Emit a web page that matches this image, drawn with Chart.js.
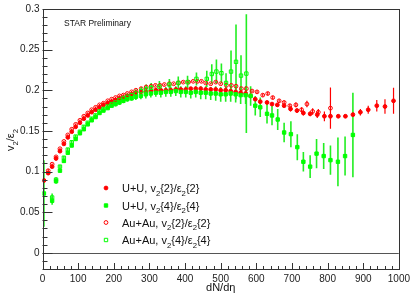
<!DOCTYPE html>
<html>
<head>
<meta charset="utf-8">
<script src="https://cdn.jsdelivr.net/npm/chart.js@4"></script>
<style>
html, body { margin: 0; padding: 0; background: #fff; }
</style>
</head>
<body>
<canvas id="myChart" width="414" height="297"></canvas>
<script>
const ctx = document.getElementById('myChart');

// tick labels
const xTicks = [0, 100, 200, 300, 400, 500, 600, 700, 800, 900, 1000];
const yTicks = [0, 0.05, 0.1, 0.15, 0.2, 0.25, 0.3];

// U+U, v2{2}/e2{2}  (red filled circles)
const uu22X = [4,16,27,38,49,60,71,82,93,105, 116,127,138,149,160,171,183,194,205,216,
  227,238,250,262,276,290,304,318,332,346, 360,374,388,402,416,430,444,458,472,486,
  500,514,528,542,556,570,584,597,611,630, 644,659,678,696,714,732,751,771,791,808,
  830,850,871,892,914,938,961,985];
const uu22Y = [0.089,0.098,0.106,0.116,0.125,0.134,0.142,0.149,0.155,0.160,
  0.165,0.169,0.173,0.176,0.179,0.182,0.184,0.186,0.188,0.190,
  0.191,0.193,0.195,0.197,0.198,0.198,0.199,0.200,0.200,0.200,
  0.200,0.201,0.201,0.201,0.202,0.202,0.202,0.201,0.201,0.201,
  0.200,0.200,0.199,0.198,0.197,0.196,0.193,0.189,0.186,0.185,
  0.183,0.182,0.181,0.177,0.175,0.172,0.171,0.170,0.168,0.168,
  0.168,0.168,0.170,0.173,0.176,0.181,0.180,0.187];
const uu22E = [0.003,0.002,0.001,0.001,0.001,0.001,0.001,0.001,0.001,0.001,
  0.001,0.001,0.001,0.001,0.001,0.001,0.001,0.001,0.001,0.001,
  0.001,0.001,0.001,0.001,0.001,0.001,0.001,0.001,0.001,0.001,
  0.001,0.001,0.001,0.001,0.001,0.001,0.001,0.001,0.001,0.001,
  0.001,0.001,0.001,0.001,0.001,0.001,0.001,0.001,0.001,0.001,
  0.002,0.002,0.002,0.003,0.003,0.003,0.003,0.004,0.006,0.003,
  0.002,0.002,0.003,0.004,0.005,0.007,0.009,0.016];

// U+U, v2{4}/e2{4}  (green filled squares)
const uu24X = [4,27,38,49,60,71,82,93,105,116, 127,138,149,160,171,183,194,205,216,227,
  238,250,262,276,290,304,318,332,346,360, 374,388,402,416,430,444,458,472,486,500,
  514,528,542,556,570,584,597,611,630,644, 660,678,697,715,732,751,769,789,808,829,
  849,871];
const uu24Y = [0.073,0.064,0.088,0.101,0.113,0.123,0.132,0.140,0.147,0.152,
  0.158,0.163,0.167,0.172,0.175,0.178,0.181,0.183,0.185,0.187,
  0.189,0.190,0.192,0.193,0.195,0.196,0.197,0.197,0.198,0.198,
  0.199,0.198,0.198,0.197,0.198,0.197,0.197,0.196,0.196,0.195,
  0.195,0.196,0.195,0.194,0.194,0.193,0.181,0.179,0.171,0.169,
  0.164,0.148,0.146,0.130,0.112,0.106,0.122,0.119,0.114,0.112,
  0.119,0.145];
const uu24E = [0.041,0.005,0.003,0.002,0.002,0.002,0.002,0.002,0.002,0.002,
  0.002,0.002,0.002,0.002,0.002,0.002,0.002,0.003,0.003,0.003,
  0.003,0.003,0.004,0.004,0.005,0.005,0.005,0.006,0.006,0.006,
  0.006,0.007,0.007,0.007,0.007,0.008,0.008,0.008,0.009,0.009,
  0.009,0.010,0.010,0.011,0.011,0.012,0.012,0.012,0.012,0.012,
  0.013,0.012,0.016,0.016,0.012,0.014,0.018,0.016,0.018,0.030,
  0.024,0.052];

// Au+Au, v2{2}/e2{2}  (red open circles)
const au22X = [16,27,38,49,60,71,82,93,105, 116,127,138,149,160,171,183,194,205,
  216,227,238,250,262,277,291,305,317,330, 342,356,368,382,395,410,423,435,446,458,
  472,486,500,516,530,543,558,572,588,602, 618,632,646,664,678,694,711,727,742,758,
  774,808];
const au22Y = [0.101,0.109,0.118,0.128,0.137,0.145,0.152,0.158,0.163,
  0.168,0.172,0.176,0.179,0.182,0.184,0.187,0.189,0.191,
  0.193,0.194,0.196,0.198,0.200,0.202,0.204,0.205,0.206,0.206,
  0.207,0.208,0.208,0.209,0.210,0.210,0.211,0.211,0.211,0.209,
  0.208,0.210,0.208,0.206,0.206,0.205,0.202,0.202,0.199,0.198,
  0.194,0.196,0.191,0.187,0.185,0.181,0.182,0.176,0.183,0.174,
  0.173,0.178];
const au22E = [0.002,0.001,0.001,0.001,0.001,0.001,0.001,0.001,0.001,
  0.001,0.001,0.001,0.001,0.001,0.001,0.001,0.001,0.001,
  0.001,0.001,0.001,0.001,0.001,0.001,0.001,0.001,0.001,0.001,
  0.001,0.001,0.001,0.001,0.001,0.001,0.001,0.001,0.001,0.001,
  0.001,0.001,0.001,0.001,0.001,0.001,0.001,0.001,0.001,0.002,
  0.002,0.002,0.002,0.002,0.002,0.002,0.003,0.003,0.004,0.004,
  0.004,0.0255];

// Au+Au, v2{4}/e2{4}  (green open squares)
const au24X = [27,38,49,60,71,82,93,105,116, 127,138,149,160,171,183,194,205,216,
  227,238,250,262,277,291,305, 328,356,381,407,432,461, 475,488,502,515,529,543,557,572];
const au24Y = [0.068,0.090,0.106,0.117,0.127,0.136,0.143,0.149,0.155,
  0.160,0.165,0.169,0.174,0.177,0.180,0.183,0.185,0.188,
  0.190,0.192,0.194,0.196,0.199,0.201,0.203,
  0.2045,0.207,0.209,0.210,0.214,0.214,
  0.220,0.223,0.221,0.209,0.223,0.235,0.218,0.2205];
const au24E = [0.005,0.003,0.002,0.002,0.002,0.002,0.002,0.002,0.002,
  0.002,0.002,0.002,0.003,0.003,0.003,0.003,0.003,0.003,
  0.004,0.004,0.004,0.005,0.005,0.006,0.006,
  0.007,0.007,0.008,0.008,0.008,0.010,
  0.012,0.015,0.012,0.012,0.026,0.046,0.025,0.073];

// legend text, as [text, subscript?] pieces
const legendLabels = [
  [['U+U, v', 0], ['2', 1], ['{2}/\u03b5', 0], ['2', 1], ['{2}', 0]],
  [['U+U, v', 0], ['2', 1], ['{4}/\u03b5', 0], ['2', 1], ['{4}', 0]],
  [['Au+Au, v', 0], ['2', 1], ['{2}/\u03b5', 0], ['2', 1], ['{2}', 0]],
  [['Au+Au, v', 0], ['2', 1], ['{4}/\u03b5', 0], ['2', 1], ['{4}', 0]]
];
const yTitle = [['v', 0], ['2', 1], ['/\u03b5', 0], ['2', 1]];
const xTitle = 'dN/d\u03b7';
const starLabel = 'STAR Preliminary';

const RED = '#ff0000';
const GREEN = '#00ff00';
const GREEN_BAR = '#22ee22';
const FONT = '"Liberation Sans", Arial, sans-serif';

function pts(xs, ys) {
  return xs.map(function(x, i) { return {x: x, y: ys[i]}; });
}

const errSets = [uu22E, uu24E, au22E, au24E];
const styles = [
  {style: 'circle', radius: 1.9, fill: RED, stroke: RED, bar: RED, barW: 1.2},
  {style: 'rect', radius: 2.4, fill: GREEN, stroke: GREEN, bar: GREEN_BAR, barW: 1.6},
  {style: 'circle', radius: 1.9, fill: 'rgba(0,0,0,0)', stroke: RED, bar: RED, barW: 1.2},
  {style: 'rect', radius: 2.4, fill: 'rgba(0,0,0,0)', stroke: GREEN, bar: GREEN_BAR, barW: 1.6}
];

function richText(c, x, y, parts, size) {
  let cx = x;
  parts.forEach(function(p) {
    const s = p[1] ? size * 0.7 : size;
    c.font = s + 'px ' + FONT;
    c.fillText(p[0], cx, y + (p[1] ? size * 0.32 : 0));
    cx += c.measureText(p[0]).width;
  });
  return cx - x;
}

function richWidth(c, parts, size) {
  let w = 0;
  parts.forEach(function(p) {
    c.font = (p[1] ? size * 0.7 : size) + 'px ' + FONT;
    w += c.measureText(p[0]).width;
  });
  return w;
}

const decor = {
  id: 'decor',
  beforeDatasetsDraw(chart) {
    const c = chart.ctx, xs = chart.scales.x, ys = chart.scales.y, a = chart.chartArea;
    c.save();
    c.beginPath();
    c.rect(a.left, a.top, a.right - a.left, a.bottom - a.top);
    c.clip();
    // zero line
    c.strokeStyle = '#555';
    c.lineWidth = 1;
    c.beginPath();
    const y0 = Math.round(ys.getPixelForValue(0)) + 0.5;
    c.moveTo(a.left, y0);
    c.lineTo(a.right, y0);
    c.stroke();
    // error bars
    chart.data.datasets.forEach(function(ds, i) {
      const errs = errSets[i];
      c.strokeStyle = styles[i].bar;
      c.lineWidth = styles[i].barW;
      ds.data.forEach(function(p, j) {
        const e = errs[j];
        if (!e) return;
        const px = xs.getPixelForValue(p.x);
        c.beginPath();
        c.moveTo(px, ys.getPixelForValue(p.y + e));
        c.lineTo(px, ys.getPixelForValue(p.y - e));
        c.stroke();
      });
    });
    c.restore();
  },
  afterDraw(chart) {
    const c = chart.ctx, xs = chart.scales.x, ys = chart.scales.y, a = chart.chartArea;
    c.save();
    // frame
    c.strokeStyle = '#333';
    c.lineWidth = 1;
    c.strokeRect(Math.round(a.left) + 0.5, Math.round(a.top) + 0.5,
      Math.round(a.right - a.left), Math.round(a.bottom - a.top));
    // inward ticks
    c.beginPath();
    for (let k = 0; k <= 50; k++) {
      const px = Math.round(xs.getPixelForValue(k * 20)) + 0.5;
      const len = (k % 5 === 0) ? 6 : 3;
      c.moveTo(px, a.bottom);
      c.lineTo(px, a.bottom - len);
    }
    for (let k = -2; k <= 30; k++) {
      const py = Math.round(ys.getPixelForValue(k * 0.01)) + 0.5;
      const len = (k % 5 === 0) ? 10 : 5;
      c.moveTo(a.left, py);
      c.lineTo(a.left + len, py);
    }
    c.stroke();

    c.fillStyle = '#111';
    c.textBaseline = 'alphabetic';
    // STAR Preliminary
    c.font = '8.5px ' + FONT;
    c.textAlign = 'left';
    c.fillText(starLabel, 64, 26);
    // x title
    c.font = '11px ' + FONT;
    c.textAlign = 'center';
    c.fillText(xTitle, (a.left + a.right) / 2, 291);
    // y title rotated
    c.textAlign = 'left';
    c.save();
    c.translate(14, 140);
    c.rotate(-Math.PI / 2);
    const tw = richWidth(c, yTitle, 11);
    richText(c, -tw / 2, 0, yTitle, 11);
    c.restore();
    // legend
    const rows = [188, 205.5, 222.5, 240];
    legendLabels.forEach(function(parts, i) {
      const st = styles[i];
      c.fillStyle = st.fill;
      c.strokeStyle = st.stroke;
      c.lineWidth = 1;
      c.beginPath();
      if (st.style === 'circle') {
        c.arc(106, rows[i], st.radius, 0, Math.PI * 2);
      } else {
        const s = st.radius * Math.SQRT1_2;
        c.rect(106 - s, rows[i] - s, 2 * s, 2 * s);
      }
      c.fill();
      c.stroke();
      c.fillStyle = '#111';
      richText(c, 122, rows[i] + 4, parts, 11);
    });
    c.restore();
  }
};

new Chart(ctx, {
  type: 'scatter',
  data: {
    datasets: [
      {label: 'U+U v2{2}', data: pts(uu22X, uu22Y), order: 4},
      {label: 'U+U v2{4}', data: pts(uu24X, uu24Y), order: 3},
      {label: 'Au+Au v2{2}', data: pts(au22X, au22Y), order: 2},
      {label: 'Au+Au v2{4}', data: pts(au24X, au24Y), order: 1}
    ].map(function(ds, i) {
      ds.pointStyle = styles[i].style;
      ds.pointRadius = styles[i].radius;
      ds.pointBackgroundColor = styles[i].fill;
      ds.pointBorderColor = styles[i].stroke;
      ds.pointBorderWidth = 1;
      ds.pointHoverRadius = styles[i].radius;
      return ds;
    })
  },
  options: {
    responsive: false,
    animation: false,
    devicePixelRatio: 1,
    layout: {padding: {left: 0, right: 13, top: 5, bottom: 0}},
    plugins: {legend: {display: false}, tooltip: {enabled: false}},
    scales: {
      x: {
        type: 'linear', min: 0, max: 1000,
        afterFit: function(s) { s.height = 28; },
        afterBuildTicks: function(s) { s.ticks = xTicks.map(function(v) { return {value: v}; }); },
        grid: {display: false, drawTicks: false},
        border: {display: false},
        ticks: {autoSkip: false, maxRotation: 0, padding: 4, color: '#222',
          font: {family: 'Liberation Sans', size: 10},
          callback: function(v) { return String(v); }}
      },
      y: {
        type: 'linear', min: -0.02, max: 0.3,
        afterFit: function(s) { s.width = 42.5; },
        afterBuildTicks: function(s) { s.ticks = yTicks.map(function(v) { return {value: v}; }); },
        grid: {display: false, drawTicks: false},
        border: {display: false},
        ticks: {padding: 3, color: '#222', font: {family: 'Liberation Sans', size: 10},
          callback: function(v) { return String(v); }}
      }
    }
  },
  plugins: [decor]
});
</script>
</body>
</html>
